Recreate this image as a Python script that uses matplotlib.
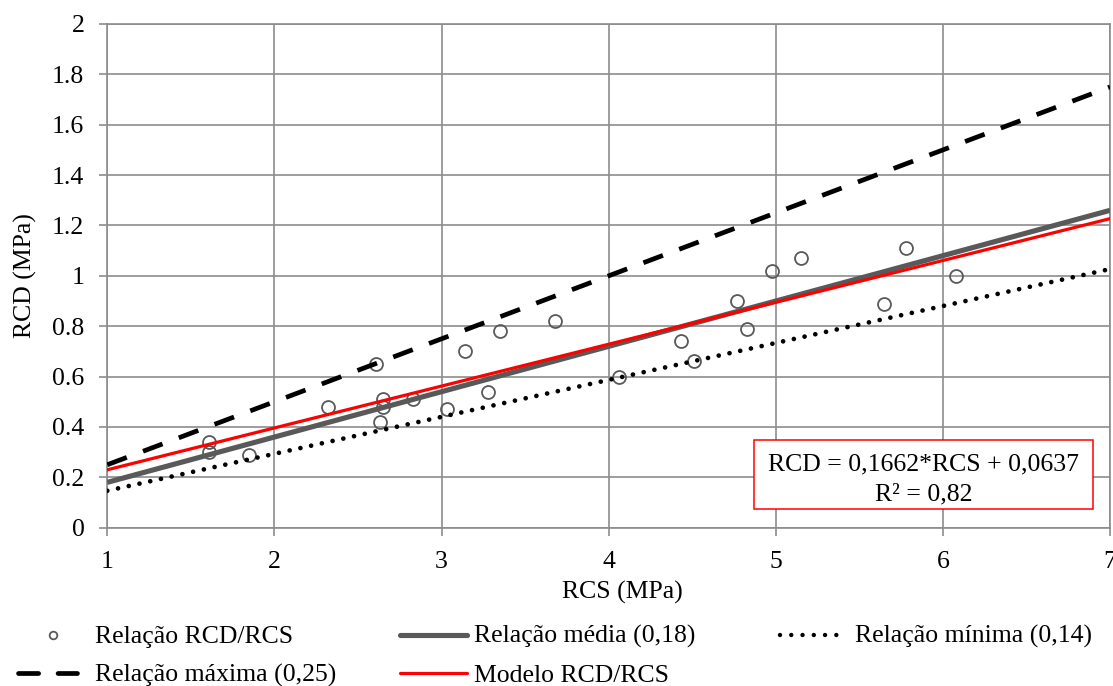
import math
import numpy as np
import matplotlib
matplotlib.use('Agg')
import matplotlib.pyplot as plt
from matplotlib.lines import Line2D
from matplotlib.patches import Rectangle

plt.rcParams['font.family'] = ['Liberation Serif', 'DejaVu Serif']
plt.rcParams['lines.scale_dashes'] = False

# ensaios RCS x RCD (MPa)
rcs = [1.61, 1.61, 1.85, 2.32, 2.61, 2.63, 2.65, 2.65, 2.83, 3.03, 3.14, 3.28,
       3.35, 3.68, 4.06, 4.43, 4.51, 4.77, 4.83, 4.98, 5.15, 5.65, 5.78, 6.08]
rcd = [0.34, 0.30, 0.29, 0.48, 0.65, 0.42, 0.51, 0.48, 0.51, 0.47, 0.70, 0.54,
       0.78, 0.82, 0.60, 0.74, 0.66, 0.90, 0.79, 1.02, 1.07, 0.89, 1.11, 1.00]

# relacoes RCD/RCS
rel_media = 0.18
rel_minima = 0.1467
rel_maxima = 0.25

# modelo ajustado
modelo_a = 0.1662
modelo_b = 0.0637
modelo_r2 = 0.82

x_ticks = [1, 2, 3, 4, 5, 6, 7]
y_ticks = [0, 0.2, 0.4, 0.6, 0.8, 1, 1.2, 1.4, 1.6, 1.8, 2]

W, H = 1113, 686
FS = 18.5
GRID = '#8c8c8c'
DARK = '#595959'


def fx(px):
    return px / W


def fy(py):
    return 1 - py / H


def rel_txt(r):
    return ('%.2f' % (math.floor(round(r * 100, 6)) / 100)).replace('.', ',')


def br(v, n):
    return ('%.*f' % (n, v)).replace('.', ',')


fig = plt.figure(figsize=(W / 100, H / 100), dpi=100)
ax = fig.add_axes([fx(107.3), fy(527.7), fx(1110) - fx(107.3), fy(24) - fy(527.7)])

ax.set_xlim(x_ticks[0], x_ticks[-1])
ax.set_ylim(y_ticks[0], y_ticks[-1])
xs = np.array(ax.get_xlim())

# pontos e retas (as retas por cima dos pontos)
ax.plot(rcs, rcd, 'o', ms=9.3, mfc='none', mec=DARK, mew=1.3, zorder=3)
ax.plot(xs, rel_media * xs, color=DARK, lw=3.7, solid_capstyle='butt', zorder=4)
ax.plot(xs, rel_minima * xs, color='black', lw=3.4, linestyle=(0, (0.01, 7.9)),
        dash_capstyle='round', zorder=5)
ax.plot(xs, rel_maxima * xs, color='black', lw=3.4, linestyle=(0, (15, 12.5)),
        dash_capstyle='butt', zorder=5)
ax.plot(xs, modelo_a * xs + modelo_b, color='#ff0000', lw=2.3, zorder=6)

ax.set_xticks(x_ticks)
ax.set_yticks(y_ticks)
ax.set_xticklabels(['%g' % v for v in x_ticks])
ax.set_yticklabels(['%g' % v for v in y_ticks])
ax.grid(True, color=GRID, lw=1.2)
ax.set_axisbelow(True)
for s in ax.spines.values():
    s.set_color(GRID)
    s.set_linewidth(1.2)
ax.tick_params(axis='both', direction='out', length=5.5, width=1.2, color=GRID,
               labelsize=FS, pad=11)

fig.text(fx(622), fy(599), 'RCS (MPa)', fontsize=FS, ha='center', va='baseline')
fig.text(fx(25), fy(276), 'RCD (MPa)', fontsize=FS, ha='center', va='center',
         rotation=90)

# caixa com a equacao do modelo
fig.add_artist(Rectangle((fx(754), fy(509)), fx(1093) - fx(754), fy(440) - fy(509),
                         transform=fig.transFigure, facecolor='white',
                         edgecolor='#ff0000', lw=1.1, zorder=10))
fig.text(fx(923.5), fy(462), 'RCD = %s*RCS + %s' % (br(modelo_a, 4), br(modelo_b, 4)),
         fontsize=FS, ha='center', va='center_baseline', zorder=11)
fig.text(fx(923.5), fy(492), 'R² = %s' % br(modelo_r2, 2),
         fontsize=FS, ha='center', va='center_baseline', zorder=11)

# legenda
row1, row2 = 635, 673
fig.add_artist(Line2D([fx(53)], [fy(row1)], marker='o', ms=5.5, mfc='none',
                      mec=DARK, mew=1.3, transform=fig.transFigure))
fig.text(fx(95), fy(row1 + 8), 'Relação RCD/RCS', fontsize=FS, va='baseline')

fig.add_artist(Line2D([fx(18), fx(77)], [fy(row2), fy(row2)], color='black', lw=3.4,
                      linestyle=(0, (14.5, 14)), dash_capstyle='round',
                      transform=fig.transFigure))
fig.text(fx(95), fy(row2 + 9), 'Relação máxima (%s)' % rel_txt(rel_maxima),
         fontsize=FS, va='baseline')

fig.add_artist(Line2D([fx(400), fx(467)], [fy(row1), fy(row1)], color=DARK, lw=3.7,
                      solid_capstyle='round', transform=fig.transFigure))
fig.text(fx(474), fy(row1 + 8), 'Relação média (%s)' % rel_txt(rel_media),
         fontsize=FS, va='baseline')

fig.add_artist(Line2D([fx(400), fx(467)], [fy(row2), fy(row2)], color='#ff0000', lw=2.3,
                      solid_capstyle='round', transform=fig.transFigure))
fig.text(fx(474), fy(row2 + 9), 'Modelo RCD/RCS', fontsize=FS, va='baseline')

fig.add_artist(Line2D([fx(780), fx(847)], [fy(row1), fy(row1)], color='black', lw=3.2,
                      linestyle=(0, (0.01, 8.1)), dash_capstyle='round',
                      transform=fig.transFigure))
fig.text(fx(855), fy(row1 + 8), 'Relação mínima (%s)' % rel_txt(rel_minima),
         fontsize=FS, va='baseline')

fig.savefig('out.png', dpi=100)
